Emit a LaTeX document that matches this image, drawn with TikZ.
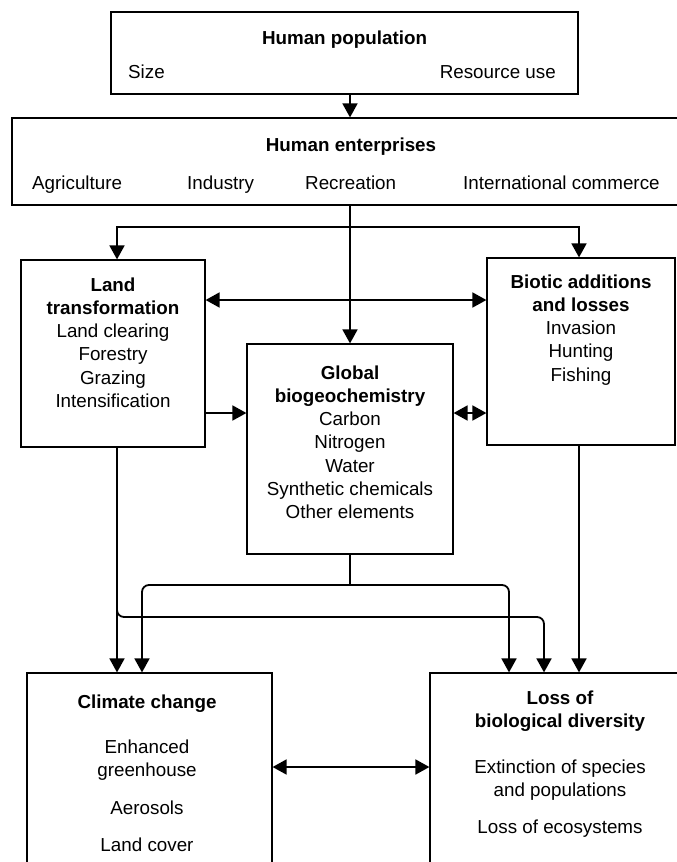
\documentclass[tikz,border=0pt]{standalone}
\usepackage{fontspec}
\setmainfont{Liberation Sans}
\usetikzlibrary{positioning,arrows.meta}
\begin{document}
\begin{tikzpicture}[
    x=1pt, y=-1pt,
    panel/.style={rectangle, draw=black, line width=1.2pt, inner sep=0pt},
    lines/.style={align=center, inner sep=0pt, font=\fontsize{18.8}{23.2}\selectfont},
    link/.style={line width=1.8pt, -{Triangle[length=14pt,width=15pt]}},
    twoway/.style={line width=1.8pt, {Triangle[length=14pt,width=15pt]}-{Triangle[length=14pt,width=15pt]}}
]
    \useasboundingbox (0,0) rectangle (677,862);
    \clip (0,0) rectangle (677,862);

    % boxes
    \node[panel, minimum width=467pt, minimum height=82pt] at (344.5,53) (pop) {};
    \node[panel, minimum width=678pt, minimum height=87pt] at (351,161.5) (ent) {};
    \node[panel, minimum width=184pt, minimum height=187pt] at (113,353.5) (land) {};
    \node[panel, minimum width=188pt, minimum height=187pt] at (581,351.5) (biot) {};
    \node[panel, minimum width=206pt, minimum height=210pt] at (350,449) (glob) {};
    \node[panel, minimum width=245pt, minimum height=220pt] at (149.5,783) (clim) {};
    \node[panel, minimum width=260pt, minimum height=220pt] at (560,783) (loss) {};

    % texts
    \node[lines, below=19pt of pop.north] (poptitle) {\textbf{Human population}};
    \node[lines, anchor=base west] at (128,78.7) (size) {Size};
    \node[lines, anchor=base east] at (556,78.7) (resuse) {Resource use};

    \node[lines, below=20pt of ent.north] (enttitle) {\textbf{Human enterprises}};
    \node[lines, anchor=base west] at (32,189.7) (agri) {Agriculture};
    \node[lines, anchor=base west] at (187,189.7) (indu) {Industry};
    \node[lines, anchor=base west] at (305,189.7) (recr) {Recreation};
    \node[lines, anchor=base west] at (463,189.7) (comm) {International commerce};

    \node[lines, below=18pt of land.north] (landtxt) {\textbf{Land}\\ \textbf{transformation}\\
        Land clearing\\ Forestry\\ Grazing\\ Intensification};
    \node[lines, below=17pt of biot.north] (biottxt) {\textbf{Biotic additions}\\ \textbf{and losses}\\
        Invasion\\ Hunting\\ Fishing};
    \node[lines, below=22pt of glob.north] (globtxt) {\textbf{Global}\\ \textbf{biogeochemistry}\\
        Carbon\\ Nitrogen\\ Water\\ Synthetic chemicals\\ Other elements};
    \node[lines, below=22pt of clim.north, xshift=-2.5pt] (climtxt) {\textbf{Climate change}\\[21.8pt]
        Enhanced\\ greenhouse\\[14.8pt] Aerosols\\[13.8pt] Land cover};
    \node[lines, below=18pt of loss.north] (losstxt) {\textbf{Loss of}\\ \textbf{biological diversity}\\[22.8pt]
        Extinction of species\\ and populations\\[13.8pt] Loss of ecosystems};

    % levels and columns of the connectors
    \coordinate (yfork) at (0,227);
    \coordinate (ytop) at (0,300);
    \coordinate (ymid) at (0,413);
    \coordinate (yglob) at (0,585);
    \coordinate (yland) at (0,617);
    \coordinate (ylow) at (0,767);
    \coordinate (xland) at (117,0);
    \coordinate (xclim) at (142,0);
    \coordinate (xloss) at (509,0);
    \coordinate (xbend) at (544,0);
    \coordinate (xbiot) at (579,0);

    % connectors
    \draw[link] (glob.north |- pop.south) -- (glob.north |- ent.north);
    \draw[link] (glob.north |- ent.south) -- (glob.north);
    \draw[link] (glob.north |- yfork) -| (xland |- land.north);
    \draw[link] (glob.north |- yfork) -| (xbiot |- biot.north);

    \draw[twoway] (land.east |- ytop) -- (biot.west |- ytop);
    \draw[link] (land.east |- ymid) -- (glob.west |- ymid);
    \draw[twoway] (glob.east |- ymid) -- (biot.west |- ymid);

    \draw[link] (xland |- land.south) -- (xland |- clim.north);
    \draw[link, rounded corners=7pt] (xland |- land.south) |- (xbend |- yland) -- (xbend |- loss.north);
    \draw[line width=1.8pt] (glob.south) -- (glob.south |- yglob);
    \draw[link, rounded corners=7pt] (glob.south |- yglob) -| (xclim |- clim.north);
    \draw[link, rounded corners=7pt] (glob.south |- yglob) -| (xloss |- loss.north);
    \draw[link] (xbiot |- biot.south) -- (xbiot |- loss.north);

    \draw[twoway] (clim.east |- ylow) -- (loss.west |- ylow);
\end{tikzpicture}
\end{document}
